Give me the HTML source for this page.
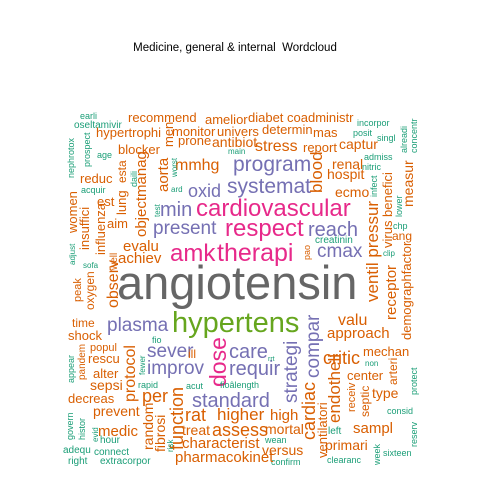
<!DOCTYPE html>
<html><head><meta charset="utf-8"><style>
html,body{margin:0;padding:0;background:#fff;}
svg{display:block;font-family:"Liberation Sans",Arial,sans-serif;}
</style></head><body>
<svg id="chart" width="480" height="480" viewBox="0 0 480 480">
<rect width="480" height="480" fill="#fff"/>
<text x="235" y="51" font-size="11.5" text-anchor="middle" fill="#000" style="white-space:pre">Medicine, general &amp; internal  Wordcloud</text>
<g id="cloud"></g>
</svg>
<script>
// word, font size (frequency scale), colour group, rotated flag
const words = ["angiotensin","hypertens","therapi","amk","respect","cardiovascular","present","min","program","systemat","oxid","mmhg","reach","cmax","creatinin","sever","ill","improv","standard","care","requir","plasma","dose","compar","strategi",
"earli","oseltamivir","recommend","amelior","hypertrophi","monitor","univers","prone","antibiot","age","blocker","main","ard","reduc","acquir","est","aim",
"diabet","coadministr","incorpor","determin","mas","posit","singl","stress","report","captur","admiss","renal","nitric","hospit","ecmo","chp","ang","clip",
"valu","approach","critic","mechan","non","center","fioâlength","type","consid","higher","high","left","sampl","mortal","assess","wean","primari","sixteen","clearanc","versus","confirm",
"sofa","evalu","achiev","time","shock","fio","popul","rescu","alter","sepsi","rapid","acut","decreas","per","prevent","rat","medic","hour","treat","characterist","pharmacokinet","adequ","connect","right","extracorpor","rrt",
"nephrotox","prospect","men","aorta","worst","esta","daili","objectmanag","women","lung","test","insuffici","influenza","alreadi","concentr","blood","infect","measur","lower","ventil pressur","virus benefici","pao","receptor","demographfactor","arteri","protect","endotheli","cardiac","receiv","septic","ventilatori","reserv","week","adjust","well","peak","oxygen","observ","appear","pandem","protocol","fewer","function","govern","histor","evid","random","fibrosi","risk"];
const sizes = [47,29,25,24,24,24,19,20,21,21,18,16,20,19,10,19,12,19,20,20,20,19,23,19,19,
9,10,13,13,13,13,13,13,14,9,13,8,8,13,9,13,13,
13,13,9,13,13,9,9,16,13,14,9,14,9,14,14,9,12,8,
16,15,18,13,8,13,9,14,9,17,15,10,15,14,18,9,14,9,9,14,9,
8,15,15,12,13,9,11,13,13,14,9,9,13,18,14,18,15,10,14,15,15,10,10,10,10,7,
9,9,13,15,8,12,9,15,13,13,8,13,13,9,9,17,9,14,9,17,13,9,15,13,12,9,17,18,11,12,13,9,9,8,10,11,12,16,9,10,16,8,18,9,9,8,14,14,8];
const groups = ["gray","green","pink","pink","pink","pink","purple","purple","purple","purple","purple","orange","purple","purple","teal","purple","orange","purple","purple","purple","purple","purple","pink","purple","purple",
"teal","teal","orange","orange","orange","orange","orange","orange","orange","teal","orange","teal","teal","orange","teal","orange","orange",
"orange","orange","teal","orange","orange","teal","teal","orange","orange","orange","teal","orange","teal","orange","orange","teal","orange","teal",
"orange","orange","orange","orange","teal","orange","teal","orange","teal","orange","orange","teal","orange","orange","orange","teal","orange","teal","teal","orange","teal",
"teal","orange","orange","orange","orange","teal","orange","orange","orange","orange","teal","teal","orange","orange","orange","orange","orange","teal","orange","orange","orange","teal","teal","teal","teal","teal",
"teal","teal","orange","orange","teal","orange","teal","orange","orange","orange","teal","orange","orange","teal","teal","orange","teal","orange","teal","orange","orange","orange","orange","orange","orange","teal","orange","orange","orange","orange","orange","teal","teal","teal","orange","orange","orange","orange","teal","orange","orange","teal","orange","teal","teal","teal","orange","orange","teal"];
const rotated = words.map((w,i)=> i >= words.indexOf("nephrotox") || w==="dose" || w==="compar" || w==="strategi");
// layout produced by the cloud placement (x, baseline y)
const layout = [[117,299],[172,332],[217,261],[170,261],[225,236],[196,216],[153,234],[160,216],[233,171],[227,193],[188,197],[175,170],[308,236],[317,257],[315,243],[147,357],[188,358],[147,374],[192,407],[229,358],[229,375],[107,331],[226,387],[319,378],[297,403],
[80,119],[74,128],[128,122],[205,124],[96,137],[172,136],[217,136],[178,145],[212,147],[97,158],[118,154],[228,154],[171,192],[80,183],[81,193],[97,206],[107,228],
[248,122],[287,122],[357,126],[262,134],[313,137],[353,136],[377,141],[255,151],[303,152],[339,149],[364,160],[332,169],[362,170],[327,179],[335,197],[393,229],[392,240],[383,256],
[338,325],[327,338],[323,364],[363,356],[365,366],[347,380],[220,388],[372,398],[387,414],[217,420],[270,420],[328,434],[353,433],[265,434],[212,436],[265,443],[325,450],[383,456],[327,463],[262,455],[271,465],
[83,268],[123,251],[118,263],[72,327],[68,340],[152,343],[90,351],[88,363],[93,378],[90,390],[138,388],[186,389],[68,403],[142,402],[93,416],[185,421],[98,436],[100,443],[182,435],[182,448],[175,462],[63,453],[94,455],[68,464],[100,464],[268,361],
[74,178],[90,167],[173,147],[168,192],[177,177],[126,183],[137,187],[146,237],[77,233],[126,215],[160,217],[89,250],[105,255],[407,153],[417,153],[322,193],[377,197],[413,207],[402,217],[378,302],[392,248],[310,260],[396,320],[411,340],[397,385],[417,395],[340,423],[315,440],[355,412],[369,417],[327,458],[417,447],[380,465],[75,265],[117,270],[81,302],[94,310],[118,308],[74,383],[85,380],[135,402],[145,375],[183,450],[73,440],[85,440],[98,442],[153,450],[165,452],[173,452]];
const palette = {gray:"#666666",green:"#66A61E",pink:"#E7298A",purple:"#7570B3",orange:"#D95F02",teal:"#1B9E77"};
const g = document.getElementById("cloud");
const NS = "http://www.w3.org/2000/svg";
words.forEach((w,i)=>{
  const p = layout[i] || [240,240];
  const t = document.createElementNS(NS,"text");
  t.textContent = w;
  t.setAttribute("font-size", sizes[i]);
  t.setAttribute("fill", palette[groups[i]] || "#D95F02");
  if (rotated[i]) {
    t.setAttribute("transform","translate("+p[0]+","+p[1]+") rotate(-90)");
    t.setAttribute("x",0); t.setAttribute("y",0);
  } else {
    t.setAttribute("x",p[0]); t.setAttribute("y",p[1]);
  }
  
  
  g.appendChild(t);
});
</script>
</body></html>
